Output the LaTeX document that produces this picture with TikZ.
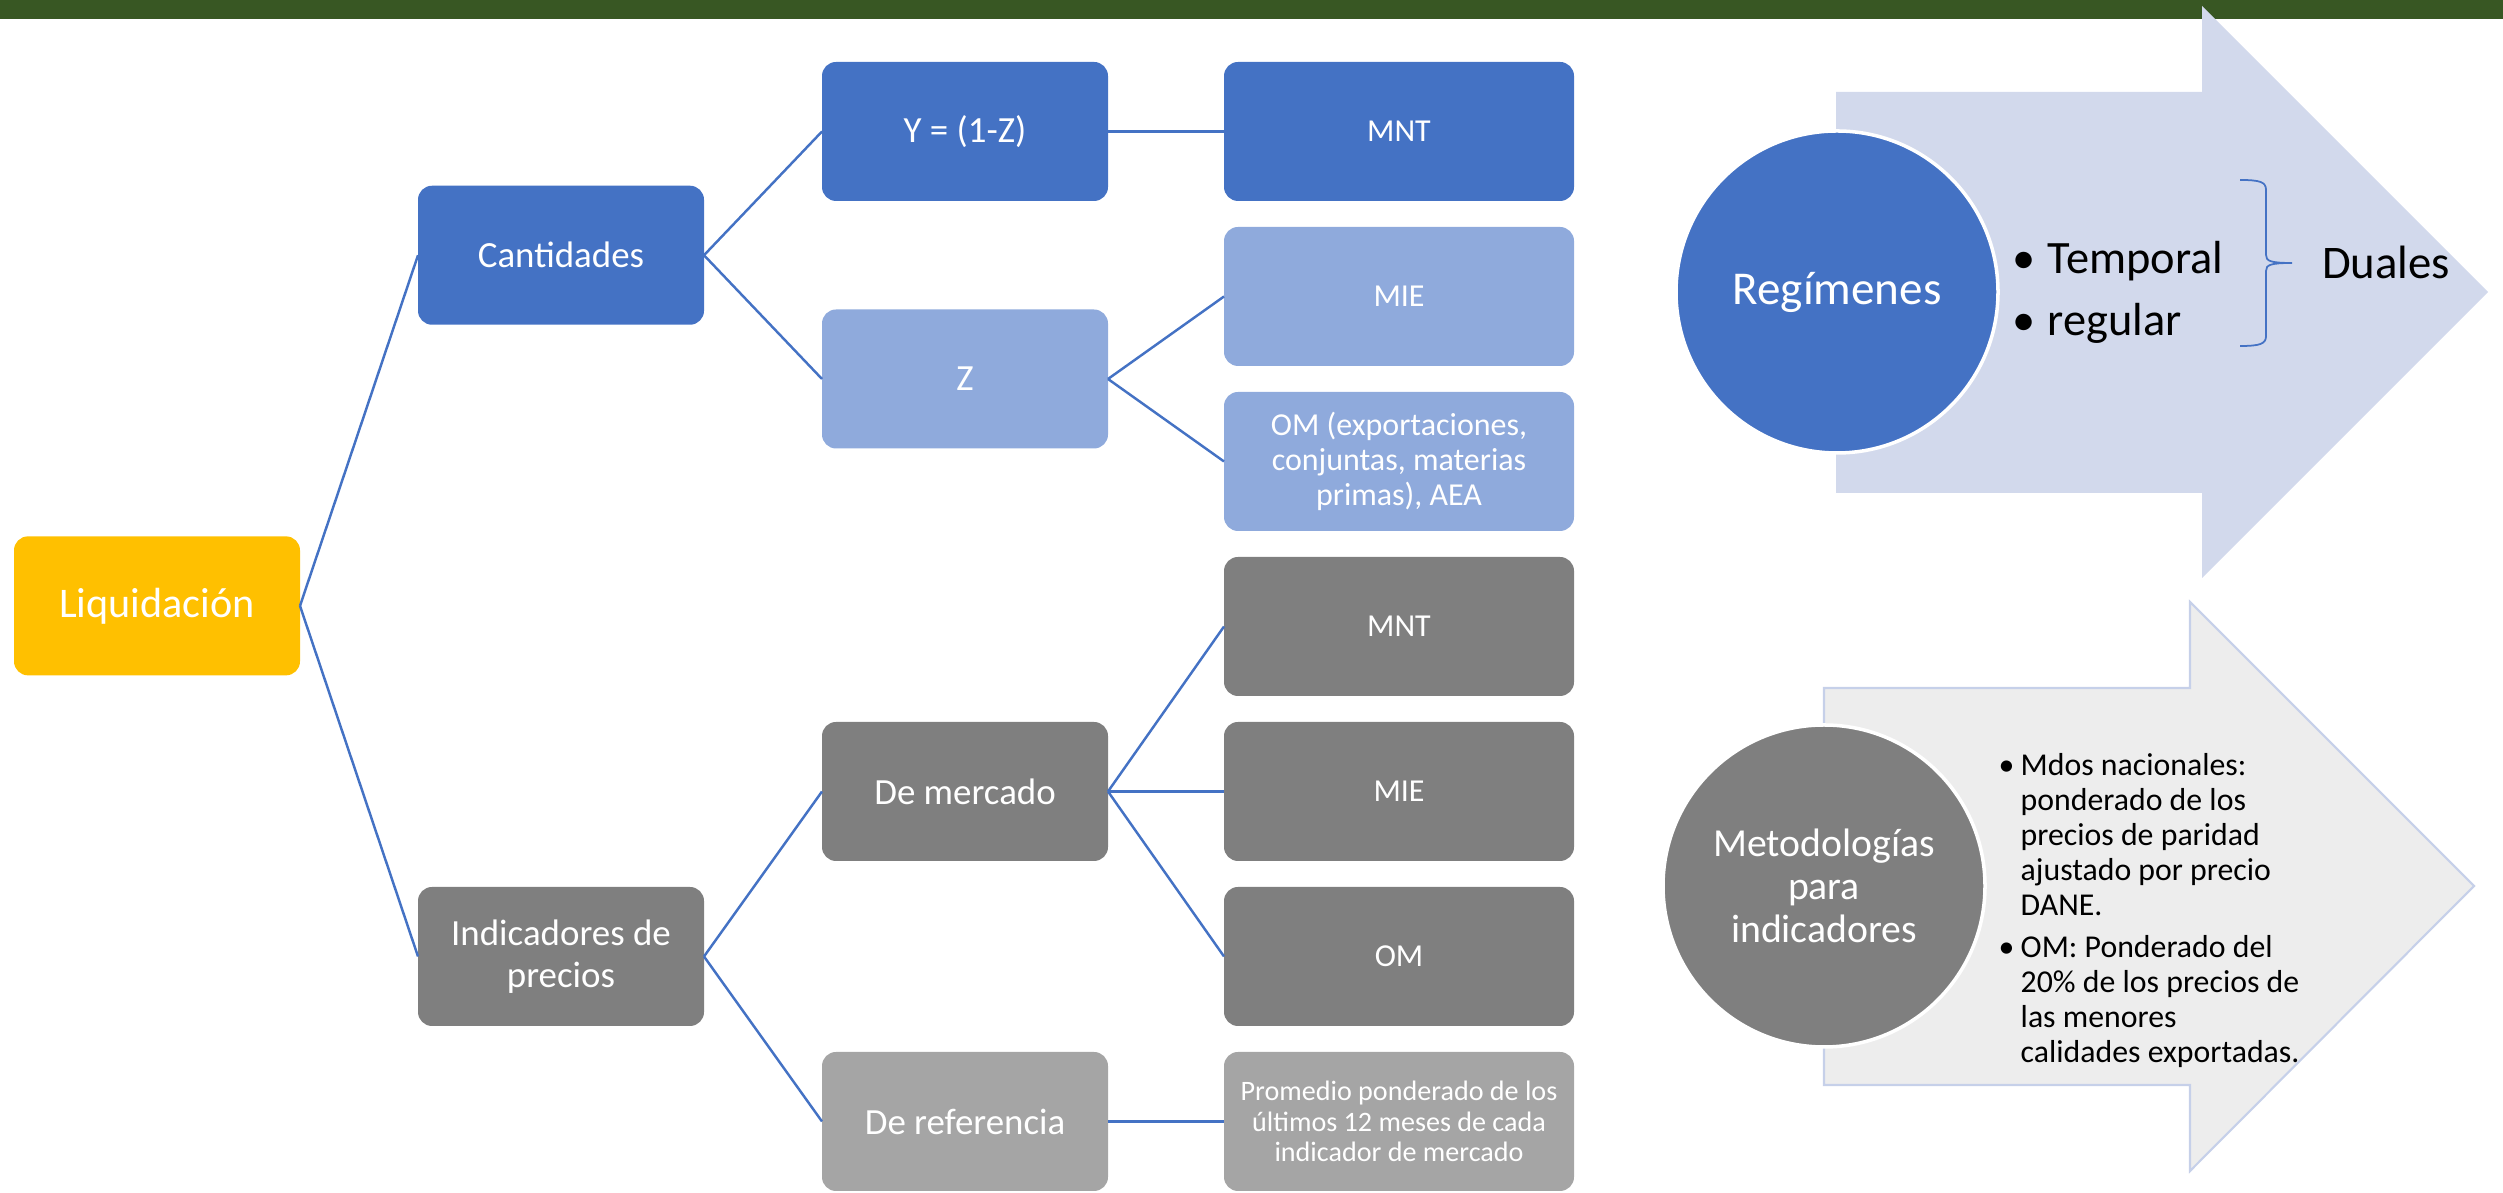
\documentclass[tikz,border=0pt]{standalone}
\usepackage{fontspec}
\setmainfont{Carlito}
\usetikzlibrary{positioning, calc}
\usepackage{xcolor}

\definecolor{acc1}{HTML}{4472C4}
\definecolor{acc1light}{HTML}{8FAADC}
\definecolor{grayd}{HTML}{7F7F7F}
\definecolor{grayl}{HTML}{A5A5A5}
\definecolor{gold}{HTML}{FFC000}
\definecolor{barg}{HTML}{385723}
\definecolor{arrowblue}{HTML}{D2D9EC}
\definecolor{arrowgray}{HTML}{EDEDED}
\definecolor{arrowedge}{HTML}{C6D0E9}

\begin{document}
\begin{tikzpicture}[
        box/.style={rectangle, rounded corners=0.14cm, minimum width=2.86cm, minimum height=1.39cm, text=white, align=center, inner sep=1pt, outer sep=0pt, font=\fontsize{10.5}{11.8}\selectfont},
        leaf/.style={box, minimum width=3.5cm, font=\fontsize{9.1}{10}\selectfont},
        link/.style={draw=acc1, line width=0.7pt},
        bigdot/.style={circle, minimum size=3.22cm, draw=white, line width=1pt, text=white, align=center}
    ]
        \useasboundingbox (0,0) rectangle (25.03,11.93);
        \fill[barg] (0,11.74) rectangle (25.03,11.93);

        % leaves
        \node [leaf, fill=acc1] (mnt1) at (13.99,10.615) {MNT};
        \node [leaf, fill=acc1light, below=0.26cm of mnt1] (mie1) {MIE};
        \node [leaf, fill=acc1light, below=0.26cm of mie1] (om1) {OM (exportaciones,\\conjuntas, materias\\primas), AEA};
        \node [leaf, fill=grayd, below=0.26cm of om1] (mnt2) {MNT};
        \node [leaf, fill=grayd, below=0.26cm of mnt2] (mie2) {MIE};
        \node [leaf, fill=grayd, below=0.26cm of mie2] (om2) {OM};
        \node [leaf, fill=grayl, below=0.26cm of om2, font=\fontsize{8}{8.6}\selectfont] (prom) {Promedio ponderado de los\\últimos 12 meses de cada\\indicador de mercado};

        \node [box, fill=acc1, left=1.16cm of mnt1] (yz) {Y = (1-Z)};
        \coordinate (zrow) at ($(mie1.west)!0.5!(om1.west)$);
        \node [box, fill=acc1light, left=1.16cm of zrow] (z) {Z};
        \node [box, fill=grayd, left=1.16cm of mie2] (merc) {De mercado};
        \node [box, fill=grayl, left=1.16cm of prom] (ref) {De referencia};

        \coordinate (crow) at ($(yz.west)!0.5!(z.west)$);
        \node [box, fill=acc1, left=1.18cm of crow] (cant) {Cantidades};
        \coordinate (irow) at ($(merc.west)!0.5!(ref.west)$);
        \node [box, fill=grayd, left=1.18cm of irow] (ind) {Indicadores de\\precios};

        \coordinate (lrow) at ($(cant.west)!0.5!(ind.west)$);
        \node [box, fill=gold, left=1.18cm of lrow, font=\fontsize{12}{14}\selectfont] (liq) {Liquidación};

        \draw [link] (liq.east) -- (cant.west);
        \draw [link] (liq.east) -- (ind.west);
        \draw [link] (cant.east) -- (yz.west);
        \draw [link] (cant.east) -- (z.west);
        \draw [link] (yz.east) -- (mnt1.west);
        \draw [link] (z.east) -- (mie1.west);
        \draw [link] (z.east) -- (om1.west);
        \draw [link] (ind.east) -- (merc.west);
        \draw [link] (ind.east) -- (ref.west);
        \draw [link] (merc.east) -- (mnt2.west);
        \draw [link] (merc.east) -- (mie2.west);
        \draw [link] (merc.east) -- (om2.west);
        \draw [link] (ref.east) -- (prom.west);

        % big arrows on the right
        \fill [arrowblue] (18.36,11.01) -- (22.02,11.01) -- (22.02,11.87) -- (24.88,9.01) -- (22.02,6.15) -- (22.02,7.0) -- (18.36,7.0) -- cycle;
        \filldraw [fill=arrowgray, draw=arrowedge, line width=0.6pt] (18.24,5.05) -- (21.90,5.05) -- (21.90,5.91) -- (24.74,3.07) -- (21.90,0.22) -- (21.90,1.08) -- (18.24,1.08) -- cycle;

        \node [bigdot, fill=acc1, font=\fontsize{13.4}{16}\selectfont] (reg) at (18.37,9.01) {Regímenes};
        \node [anchor=base west, inner sep=0, font=\fontsize{13.2}{17.4}\selectfont] (regitems) at (20.12,9.19) {\begin{tabular}[t]{@{}l@{}l@{}}\makebox[0.35cm][l]{\textbullet} & Temporal\\ \textbullet & regular\end{tabular}};
        \draw [acc1, line width=0.5pt] (22.40,10.13) .. controls (22.60,10.13) and (22.66,10.11) .. (22.66,10.03) -- (22.66,9.38) .. controls (22.66,9.32) and (22.70,9.30) .. (22.92,9.30) .. controls (22.70,9.30) and (22.66,9.28) .. (22.66,9.22) -- (22.66,8.57) .. controls (22.66,8.49) and (22.60,8.47) .. (22.40,8.47);
        \node [anchor=base, font=\fontsize{13.3}{16}\selectfont] (dual) at (23.86,9.14) {Duales};

        \node [bigdot, fill=grayd, font=\fontsize{11.3}{12.2}\selectfont] (met) at (18.24,3.07) {Metodologías\\para\\indicadores};
        \node [anchor=base west, inner sep=0, font=\fontsize{9.05}{9.95}\selectfont] (metitems) at (19.98,4.17) {\begin{tabular}[t]{@{}l@{}l@{}}\makebox[0.22cm][l]{\textbullet} & Mdos nacionales:\\ & ponderado de los\\ & precios de paridad\\ & ajustado por precio\\ & DANE.\\[0.07cm] \textbullet & OM: Ponderado del\\ & 20\% de los precios de\\ & las menores\\ & calidades exportadas.\end{tabular}};

    \end{tikzpicture}
\end{document}
